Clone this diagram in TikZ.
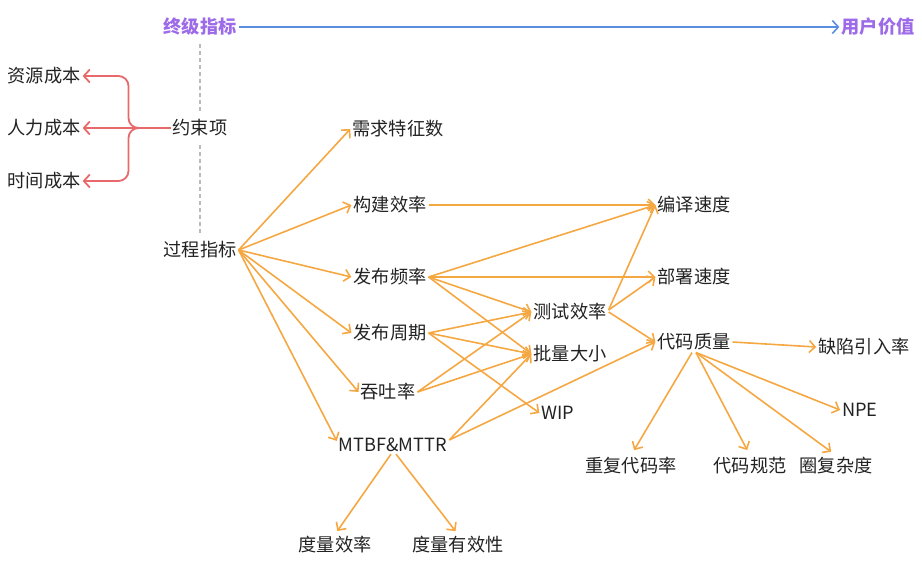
\documentclass[tikz,border=0pt]{standalone}
\usepackage{fontspec}
\setmainfont{Noto Sans CJK SC}
\usetikzlibrary{arrows.meta}
\definecolor{org}{HTML}{F5A742}
\definecolor{rd}{HTML}{E8696B}
\definecolor{bl}{HTML}{5B8DE0}
\definecolor{pu}{HTML}{9E6BE8}
\definecolor{gr}{HTML}{BBBBBB}
\definecolor{tx}{HTML}{222222}
\tikzset{
  lbl/.style={inner sep=2pt, text=tx, font=\fontsize{18.2}{21}\selectfont},
  top/.style={inner sep=2pt, text=pu, font=\fontsize{18.2}{21}\selectfont\bfseries},
  oa/.style={draw=org, line width=1.6pt, -{Straight Barb[length=6pt,width=12pt,line width=1.6pt]}},
  ra/.style={draw=rd, line width=1.8pt, -{Straight Barb[length=6pt,width=13pt,line width=1.8pt]}},
  ba/.style={draw=bl, line width=1.6pt, -{Straight Barb[length=6pt,width=13pt,line width=1.6pt]}},
  dl/.style={draw=gr, line width=1.3pt, dash pattern=on 4pt off 3pt}
}
\begin{document}
\begin{tikzpicture}[x=1pt,y=-1pt]
\useasboundingbox (0,0) rectangle (922,570);
% top
\node[top] (zj) at (200,27) {终级指标};
\node[top] (yh) at (878,27) {用户价值};
% left
\node[lbl] (zy) at (44,76) {资源成本};
\node[lbl] (rl) at (44,128) {人力成本};
\node[lbl] (sj) at (44,181) {时间成本};
\node[lbl] (ys) at (200,128) {约束项};
\node[lbl] (gc) at (200,250) {过程指标};
% second column
\node[lbl] (xq) at (398,129) {需求特征数};
\node[lbl] (gj) at (390,205) {构建效率};
\node[lbl] (fp) at (390,277) {发布频率};
\node[lbl] (fz) at (390,333) {发布周期};
\node[lbl] (tt) at (388,392) {吞吐率};
\node[lbl] (mt) at (393,445) {MTBF\&MTTR};
\node[lbl] (dx) at (335,545) {度量效率};
\node[lbl] (dy) at (458,545) {度量有效性};
% third column
\node[lbl] (cs) at (570,312) {测试效率};
\node[lbl] (pl) at (570,354) {批量大小};
\node[lbl] (wip) at (558,413) {WIP};
% fourth column
\node[lbl] (by) at (694,205) {编译速度};
\node[lbl] (bs) at (694,277) {部署速度};
\node[lbl] (dm) at (694,342) {代码质量};
\node[lbl] (qx) at (864,347) {缺陷引入率};
\node[lbl] (npe) at (860,410) {NPE};
\node[lbl] (cf) at (631,466) {重复代码率};
\node[lbl] (gf) at (750,466) {代码规范};
\node[lbl] (qf) at (836,466) {圈复杂度};
% top line
\draw[ba] (zj.east) -- (yh.west);
% dashed
\draw[dl, shorten <=6pt, shorten >=6pt] (zj.south) -- (ys.north);
\draw[dl, shorten <=6pt, shorten >=6pt] (ys.south) -- (gc.north);
% bracket
\draw[ra, rounded corners=10pt] (ys.west) -- ++(-42,0) |- (zy.east);
\draw[ra] (ys.west) -- (rl.east);
\draw[ra, rounded corners=10pt] (ys.west) -- ++(-42,0) |- (sj.east);
% from 过程指标
\draw[oa] (gc.east) -- (xq.west);
\draw[oa] (gc.east) -- (gj.west);
\draw[oa] (gc.east) -- (fp.west);
\draw[oa] (gc.east) -- (fz.west);
\draw[oa] (gc.east) -- (tt.west);
\draw[oa] (gc.east) -- ([yshift=-5pt]mt.north west);
% 构建效率
\draw[oa] (gj.east) -- (by.west);
% 发布频率
\draw[oa] (fp.east) -- (by.west);
\draw[oa] (fp.east) -- (bs.west);
\draw[oa] (fp.east) -- (cs.west);
\draw[oa] (fp.east) -- (pl.west);
% 发布周期
\draw[oa] (fz.east) -- (cs.west);
\draw[oa] (fz.east) -- (pl.west);
\draw[oa] (fz.east) -- (wip.west);
% 吞吐率
\draw[oa] (tt.east) -- (cs.west);
\draw[oa] (tt.east) -- (pl.west);
% MTBF
\draw[oa] ([yshift=5pt]mt.east) -- (pl.west);
\draw[oa] ([yshift=5pt]mt.east) -- (dm.west);
\draw[oa, shorten >=4pt] ([xshift=-2pt]mt.south) -- (dx.north);
\draw[oa, shorten >=4pt] ([xshift=3pt]mt.south) -- (dy.north);
% 测试效率
\draw[oa] ([yshift=2pt]cs.east) -- (by.west);
\draw[oa] ([yshift=2pt]cs.east) -- (bs.west);
\draw[oa] (cs.east) -- (dm.west);
% 代码质量
\draw[oa] (dm.east) -- (qx.west);
\draw[oa, shorten >=6pt] ([xshift=-2pt]dm.south) -- (cf.north);
\draw[oa, shorten >=6pt] ([xshift=2pt]dm.south) -- (gf.north);
\draw[oa, shorten >=6pt] ([xshift=2pt]dm.south) -- (qf.north);
\draw[oa] ([xshift=2pt]dm.south) -- (npe.west);
\end{tikzpicture}
\end{document}
